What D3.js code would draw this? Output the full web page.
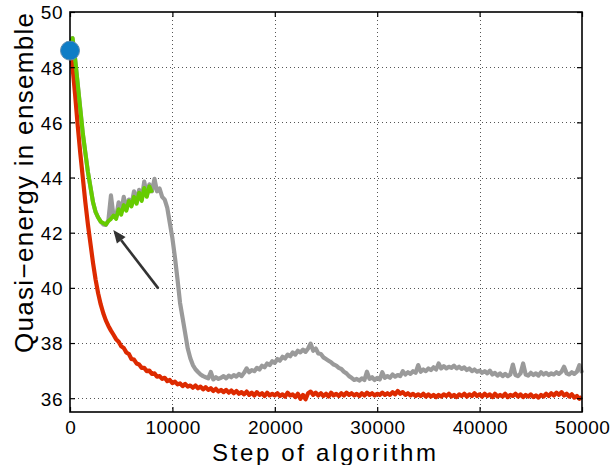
<!DOCTYPE html>
<html>
<head>
<meta charset="utf-8">
<script src="https://cdn.jsdelivr.net/npm/d3@7/dist/d3.min.js"></script>
<style>
html,body{margin:0;padding:0;background:#fff;}
svg{display:block;}
text{font-family:"Liberation Sans",Arial,Helvetica,sans-serif;fill:#000;}
</style>
</head>
<body>
<svg id="chart" width="610" height="465"></svg>
<script>
// ---- data ----
const stepInterval = 250; // samples every 250 steps
const xTicks = [0, 10000, 20000, 30000, 40000, 50000];
const yTicks = [36, 38, 40, 42, 44, 46, 48, 50];
const xLabel = "Step of algorithm";
const yLabel = "Quasi\u2212energy in ensemble";

const redValues = [
48.6,48.0,47.0,45.9,44.9,44.0,43.1,42.3,41.6,40.9,
40.3,39.8,39.4,39.08,38.82,38.62,38.45,38.3,38.14,38.05,
37.88,37.82,37.66,37.6,37.42,37.4,37.26,37.22,37.1,37.1,
36.98,37.0,36.88,36.9,36.78,36.8,36.7,36.74,36.62,36.66,
36.55,36.6,36.5,36.54,36.44,36.52,36.42,36.46,36.38,36.46,
36.36,36.42,36.32,36.4,36.3,36.36,36.26,36.34,36.24,36.3,
36.22,36.3,36.2,36.28,36.18,36.26,36.16,36.22,36.14,36.24,
36.12,36.2,36.1,36.22,36.12,36.18,36.08,36.2,36.1,36.16,
36.1,36.18,36.08,36.14,36.06,36.2,36.1,36.14,36.04,36.16,
35.98,36.12,35.96,36.18,36.24,36.12,36.2,36.1,36.18,36.08,
36.16,36.06,36.2,36.1,36.16,36.08,36.18,36.1,36.2,36.12,
36.18,36.1,36.16,36.08,36.18,36.1,36.2,36.12,36.18,36.1,
36.16,36.12,36.2,36.12,36.18,36.12,36.22,36.14,36.26,36.16,
36.22,36.12,36.18,36.1,36.16,36.08,36.14,36.08,36.16,36.06,
36.14,36.06,36.12,36.04,36.12,36.06,36.14,36.08,36.16,36.06,
36.12,36.04,36.14,36.08,36.16,36.06,36.14,36.08,36.18,36.08,
36.14,36.06,36.16,36.08,36.14,36.04,36.16,36.06,36.12,36.06,
36.16,36.04,36.12,36.08,36.16,36.06,36.14,36.04,36.12,36.06,
36.14,36.04,36.1,36.02,36.12,36.06,36.16,36.08,36.18,36.1,
36.2,36.12,36.22,36.1,36.16,36.06,36.14,36.02,36.08,35.98,
36.04
];

const grayValues = [
48.8,49.05,48.3,47.4,46.5,45.6,44.9,44.2,43.65,43.1,
42.75,42.55,42.4,42.3,42.28,42.45,43.35,42.6,42.55,43.1,
42.75,43.3,42.85,43.2,43.0,43.5,43.1,43.55,43.2,43.85,
43.35,43.75,43.5,43.95,43.5,43.6,43.3,43.2,42.9,42.35,
41.8,41.1,40.3,39.45,38.9,38.35,37.8,37.45,37.2,37.05,
36.95,36.86,36.8,36.76,36.72,36.95,36.68,36.76,36.7,36.74,
36.8,36.72,36.82,36.76,36.84,36.78,36.88,36.8,36.92,37.08,
36.94,37.02,36.98,37.1,37.04,37.18,37.12,37.26,37.2,37.34,
37.28,37.42,37.36,37.5,37.44,37.58,37.52,37.66,37.58,37.72,
37.66,37.76,37.68,37.8,37.98,37.72,37.8,37.62,37.6,37.48,
37.42,37.36,37.3,37.22,37.18,37.1,37.06,36.96,36.9,36.8,
36.74,36.66,36.7,36.64,36.72,36.66,36.96,36.7,36.76,36.66,
36.74,36.68,36.94,36.74,36.8,36.74,36.86,36.78,36.84,36.8,
36.98,36.86,36.94,36.88,36.98,36.92,37.2,36.96,37.04,36.98,
37.08,37.02,37.12,37.04,37.26,37.08,37.16,37.08,37.14,37.1,
37.18,37.08,37.14,37.06,37.12,37.02,37.08,36.98,37.04,36.96,
37.0,36.92,36.98,36.9,37.0,36.86,36.92,36.82,36.9,36.8,
36.88,36.8,36.86,37.22,36.84,36.8,36.9,37.26,36.86,36.82,
36.92,36.84,36.9,36.82,36.94,36.86,36.92,36.84,36.9,36.86,
36.94,36.88,36.96,37.14,36.9,36.86,36.94,36.88,36.96,37.2,
36.92
];

const greenValues = [
48.8,49.05,48.3,47.4,46.5,45.6,44.9,44.2,43.65,43.1,
42.75,42.55,42.4,42.35,42.3,42.42,42.5,42.62,42.5,42.85,
42.65,43.0,42.8,43.15,42.95,43.3,43.05,43.45,43.15,43.62,
43.3,43.68,43.45
];

const startPoint = {step: 0, value: 48.6};
const arrowTail = {step: 8620, value: 39.98};
const arrowHead = {step: 4230, value: 42.1};

// ---- layout ----
const svg = d3.select("#chart");
const L = 70, R = 582, T = 12, B = 412;
const x = d3.scaleLinear().domain([0, 50000]).range([L, R]);
const y = d3.scaleLinear().domain([35.5, 50]).range([B, T]);

const toPts = vals => vals.map((v, i) => ({step: i * stepInterval, value: v}));

// grid
const grid = svg.append("g").attr("shape-rendering", "crispEdges");
xTicks.filter(t => t > 0 && t < 50000).forEach(t => {
  grid.append("line").attr("x1", Math.round(x(t)) + 0.5).attr("x2", Math.round(x(t)) + 0.5).attr("y1", T).attr("y2", B)
    .attr("stroke", "#555").attr("stroke-width", 1).attr("stroke-dasharray", "1,3");
});
yTicks.filter(t => t < 50).forEach(t => {
  grid.append("line").attr("x1", L).attr("x2", R).attr("y1", Math.round(y(t)) + 0.5).attr("y2", Math.round(y(t)) + 0.5)
    .attr("stroke", "#555").attr("stroke-width", 1).attr("stroke-dasharray", "1,3");
});

// lines
const line = d3.line().x(d => x(d.step)).y(d => y(d.value));
const plot = svg.append("g");
plot.append("path").datum(toPts(grayValues)).attr("d", line)
  .attr("fill", "none").attr("stroke", "#9a9a9a").attr("stroke-width", 4.2).attr("stroke-linejoin", "round");
plot.append("path").datum(toPts(redValues)).attr("d", line)
  .attr("fill", "none").attr("stroke", "#dd2a00").attr("stroke-width", 4.2).attr("stroke-linejoin", "round");
plot.append("path").datum(toPts(greenValues)).attr("d", line)
  .attr("fill", "none").attr("stroke", "#66cc00").attr("stroke-width", 4).attr("stroke-linejoin", "round");

// arrow
const ax1 = x(arrowTail.step), ay1 = y(arrowTail.value);
const ax2 = x(arrowHead.step), ay2 = y(arrowHead.value);
const ang = Math.atan2(ay2 - ay1, ax2 - ax1);
const hl = 13, hw = 5.5;
const bx = ax2 - hl * Math.cos(ang), by = ay2 - hl * Math.sin(ang);
svg.append("line").attr("x1", ax1).attr("y1", ay1).attr("x2", bx).attr("y2", by)
  .attr("stroke", "#333").attr("stroke-width", 2.6);
svg.append("path")
  .attr("d", `M${ax2},${ay2}L${bx + hw * Math.sin(ang)},${by - hw * Math.cos(ang)}L${bx - hw * Math.sin(ang)},${by + hw * Math.cos(ang)}Z`)
  .attr("fill", "#333");

// axes box
svg.append("rect").attr("x", L).attr("y", T).attr("width", R - L).attr("height", B - T)
  .attr("fill", "none").attr("stroke", "#000").attr("stroke-width", 1.6);

// axes via d3 (ticks inward)
const xAxis = svg.append("g").attr("transform", `translate(0,${B})`)
  .call(d3.axisBottom(x).tickValues(xTicks).tickSize(-5).tickPadding(9).tickFormat(d3.format("d")));
const xAxisTop = svg.append("g").attr("transform", `translate(0,${T})`)
  .call(d3.axisTop(x).tickValues(xTicks).tickSize(-5).tickFormat(""));
const yAxis = svg.append("g").attr("transform", `translate(${L},0)`)
  .call(d3.axisLeft(y).tickValues(yTicks).tickSize(-5).tickPadding(7).tickFormat(d3.format("d")));
const yAxisR = svg.append("g").attr("transform", `translate(${R},0)`)
  .call(d3.axisRight(y).tickValues(yTicks).tickSize(-5).tickFormat(""));
[xAxis, xAxisTop, yAxis, yAxisR].forEach(g => {
  g.select(".domain").remove();
  g.selectAll(".tick line").attr("stroke", "#000").attr("stroke-width", 1.2);
  g.selectAll("text").attr("font-size", 19).attr("letter-spacing", 0.5)
    .attr("font-family", "Liberation Sans, Arial, sans-serif").attr("fill", "#000");
});
xAxis.selectAll("text").attr("dy", "0.71em").attr("dx", "0.25");
yAxis.selectAll("text").attr("dy", "0.36em");

// start point
svg.append("circle").attr("cx", x(startPoint.step)).attr("cy", y(startPoint.value)).attr("r", 9.5)
  .attr("fill", "#0f7dc6").attr("stroke", "#5d8bb0").attr("stroke-width", 1);

// labels
svg.append("text").attr("x", 324).attr("y", 461).attr("text-anchor", "middle")
  .attr("font-size", 24).attr("textLength", 224).attr("lengthAdjust", "spacing").text(xLabel);
svg.append("text").attr("transform", `translate(33,183) rotate(-90)`).attr("text-anchor", "middle")
  .attr("font-size", 26).attr("textLength", 340).attr("lengthAdjust", "spacing").text(yLabel);
</script>
</body>
</html>
